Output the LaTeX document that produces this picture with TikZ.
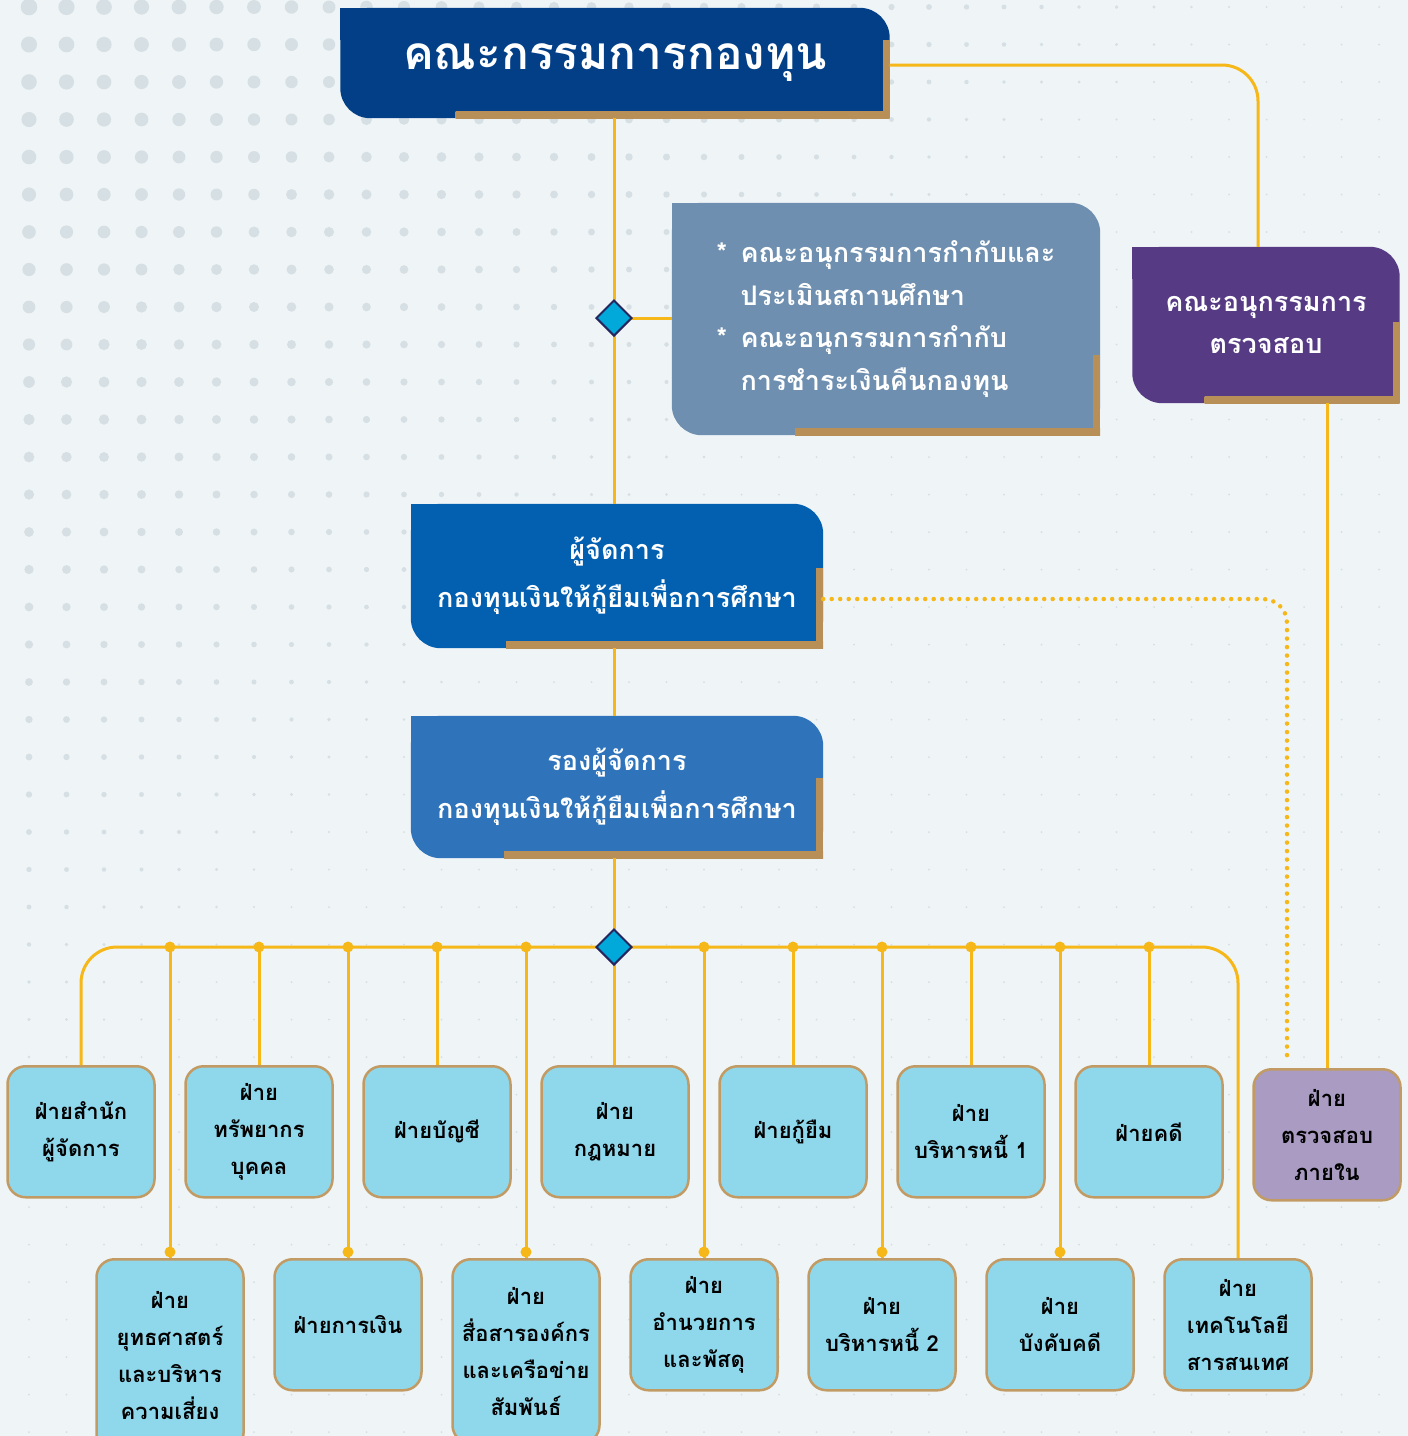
\documentclass[tikz,border=0pt]{standalone}
\usepackage{fontspec}
\setmainfont{Loma}[Script=Thai]
\usetikzlibrary{positioning, shapes.geometric, calc}

\definecolor{kyf_bg}{HTML}{EFF4F6}
\definecolor{kyf_dot}{HTML}{D6DFE4}
\definecolor{kyf_navy}{HTML}{023F87}
\definecolor{kyf_slate}{HTML}{6E8FAF}
\definecolor{kyf_purple}{HTML}{563B84}
\definecolor{kyf_blue}{HTML}{0360B0}
\definecolor{kyf_mid}{HTML}{2F74BB}
\definecolor{kyf_unit}{HTML}{8FD7EB}
\definecolor{kyf_lilac}{HTML}{A99BC2}
\definecolor{kyf_edge}{HTML}{C29B64}
\definecolor{kyf_line}{HTML}{F6B818}
\definecolor{kyf_hub}{HTML}{00A9D9}
\definecolor{kyf_hubline}{HTML}{26265F}
\definecolor{kyf_gold}{HTML}{B98F58}
\definecolor{kyf_goldlt}{HTML}{EED39E}

\pgfdeclarelayer{bg}
\pgfdeclarelayer{back}
\pgfsetlayers{bg,back,main}

% tab body behind a node: node, colour, bottom bar, side bar
\newcommand{\tabfill}[4]{%
  \begin{pgfonlayer}{back}
    \fill[#2, rounded corners=30pt] (#1.north west) rectangle (#1.south east);
    \fill[#2] (#1.north west) rectangle ([xshift=32pt,yshift=-32pt]#1.north west);
    \fill[#2] (#1.south east) rectangle ([xshift=-32pt,yshift=32pt]#1.south east);
    \shade[left color=kyf_gold, middle color=kyf_goldlt, right color=kyf_gold]
      ([xshift=-#3]#1.south east) rectangle ([yshift=7pt]#1.south east);
    \fill[kyf_gold] ([xshift=-7pt]#1.south east) rectangle ([yshift=#4]#1.south east);
  \end{pgfonlayer}}

\begin{document}
\begin{tikzpicture}[x=1pt, y=-1pt,
    link/.style={draw=kyf_line, line width=3pt},
    dotlink/.style={draw=kyf_line, line width=4.5pt, line cap=round,
                    dash pattern=on 0pt off 8.5pt},
    hub/.style={diamond, draw=kyf_hubline, line width=2pt, fill=kyf_hub,
                minimum size=36pt, inner sep=0pt},
    tab/.style={minimum width=412pt, minimum height=144pt, inner sep=0pt,
                text=white, align=center, font=\fontsize{27}{48}\selectfont\bfseries},
    unit/.style={draw=kyf_edge, line width=2.5pt, fill=kyf_unit, rounded corners=18pt,
                 minimum width=147pt, minimum height=131pt, inner sep=2pt,
                 align=center, anchor=north, font=\fontsize{22}{37}\selectfont\bfseries}]
  \clip (0,0) rectangle (1408,1436);

  % page and dot raster
  \begin{pgfonlayer}{bg}
    \fill[kyf_bg] (0,0) rectangle (1408,1436);
    \foreach \i in {0,...,37}
      \foreach \j in {0,...,38} {
        \pgfmathsetmacro\r{max(1.0, 8.5-0.006*(29+37.5*\i)-0.0065*(7+37.5*\j))}
        \fill[kyf_dot] (29+37.5*\i, 7+37.5*\j) circle (\r pt);
      }
  \end{pgfonlayer}

  % board and committees
  \node[tab, minimum width=549pt, minimum height=110pt,
        font=\fontsize{46}{50}\selectfont\bfseries] (board) at (615,63) {คณะกรรมการกองทุน};
  \tabfill{board}{kyf_navy}{434pt}{78pt}

  \node[tab, minimum width=428pt, minimum height=232pt, align=left,
        font=\fontsize{27}{42.5}\selectfont\bfseries] (sub) at (886,319)
    {\makebox[24pt][l]{*}คณะอนุกรรมการกำกับและ\\
     \hspace*{24pt}ประเมินสถานศึกษา\\
     \makebox[24pt][l]{*}คณะอนุกรรมการกำกับ\\
     \hspace*{24pt}การชำระเงินคืนกองทุน};
  \tabfill{sub}{kyf_slate}{305pt}{80pt}

  \node[tab, minimum width=267pt, minimum height=156pt,
        font=\fontsize{27}{42}\selectfont\bfseries] (audcom) at (1266,325)
    {คณะอนุกรรมการ\\ตรวจสอบ};
  \tabfill{audcom}{kyf_purple}{195pt}{81pt}

  % management
  \node[tab] (mgr) at (617,576) {ผู้จัดการ\\กองทุนเงินให้กู้ยืมเพื่อการศึกษา};
  \tabfill{mgr}{kyf_blue}{317pt}{80pt}

  \node[tab, minimum height=142pt] (dep) at (617,787)
    {รองผู้จัดการ\\กองทุนเงินให้กู้ยืมเพื่อการศึกษา};
  \tabfill{dep}{kyf_mid}{319pt}{80pt}

  % departments, upper row
  \node[unit] (d1) at (81,1065) {ฝ่ายสำนัก\\ผู้จัดการ};
  \node[unit] (d2) at (259,1065) {ฝ่าย\\ทรัพยากร\\บุคคล};
  \node[unit] (d3) at (437,1065) {ฝ่ายบัญชี};
  \node[unit] (d4) at (615,1065) {ฝ่าย\\กฎหมาย};
  \node[unit] (d5) at (793,1065) {ฝ่ายกู้ยืม};
  \node[unit] (d6) at (971,1065) {ฝ่าย\\บริหารหนี้ 1};
  \node[unit] (d7) at (1149,1065) {ฝ่ายคดี};
  \node[unit, fill=kyf_lilac] (audit) at (1327,1068) {ฝ่าย\\ตรวจสอบ\\ภายใน};

  % departments, lower row
  \node[unit, minimum height=192pt] (e1) at (170,1258) {ฝ่าย\\ยุทธศาสตร์\\และบริหาร\\ความเสี่ยง};
  \node[unit] (e2) at (348,1258) {ฝ่ายการเงิน};
  \node[unit, minimum height=184pt] (e3) at (526,1258) {ฝ่าย\\สื่อสารองค์กร\\และเครือข่าย\\สัมพันธ์};
  \node[unit] (e4) at (704,1258) {ฝ่าย\\อำนวยการ\\และพัสดุ};
  \node[unit] (e5) at (882,1258) {ฝ่าย\\บริหารหนี้ 2};
  \node[unit] (e6) at (1060,1258) {ฝ่าย\\บังคับคดี};
  \node[unit] (e7) at (1238,1258) {ฝ่าย\\เทคโนโลยี\\สารสนเทศ};

  % connectors
  \coordinate (fork) at (614,318);
  \coordinate (bus) at (614,947);
  \draw[link] (fork |- board.south) -- (fork |- mgr.north);
  \draw[link] (fork) -- (fork -| sub.west);
  \draw[link] (fork |- mgr.south) -- (fork |- dep.north);
  \draw[link] (bus |- dep.south) -- (bus);
  \draw[link, rounded corners=36pt] ([yshift=-2pt]board.east) -| ([xshift=-8pt]audcom.north);
  \draw[link] (audit.north |- audcom.south) -- (audit.north);
  \draw[dotlink, rounded corners=24pt, shorten >=8pt]
    ([yshift=-23pt]mgr.east) -| ([xshift=-40pt]audit.north);

  \draw[link, rounded corners=36pt] (d1.north) |- (bus) -| (e7.north);
  \draw[link] (bus) -- (bus |- d4.north);
  \foreach \b in {d2,d3,d5,d6,d7} {
    \draw[link] (\b.north |- bus) -- (\b.north);
    \fill[kyf_line] (\b.north |- bus) circle (5.5pt);
  }
  \foreach \b in {e1,e2,e3,e4,e5,e6} {
    \draw[link] (\b.north |- bus) -- (\b.north);
    \fill[kyf_line] (\b.north |- bus) circle (5.5pt);
    \fill[kyf_line] ([yshift=6pt]\b.north) circle (5.5pt);
  }

  \node[hub] (hub1) at (fork) {};
  \node[hub] (hub2) at (bus) {};
\end{tikzpicture}
\end{document}
